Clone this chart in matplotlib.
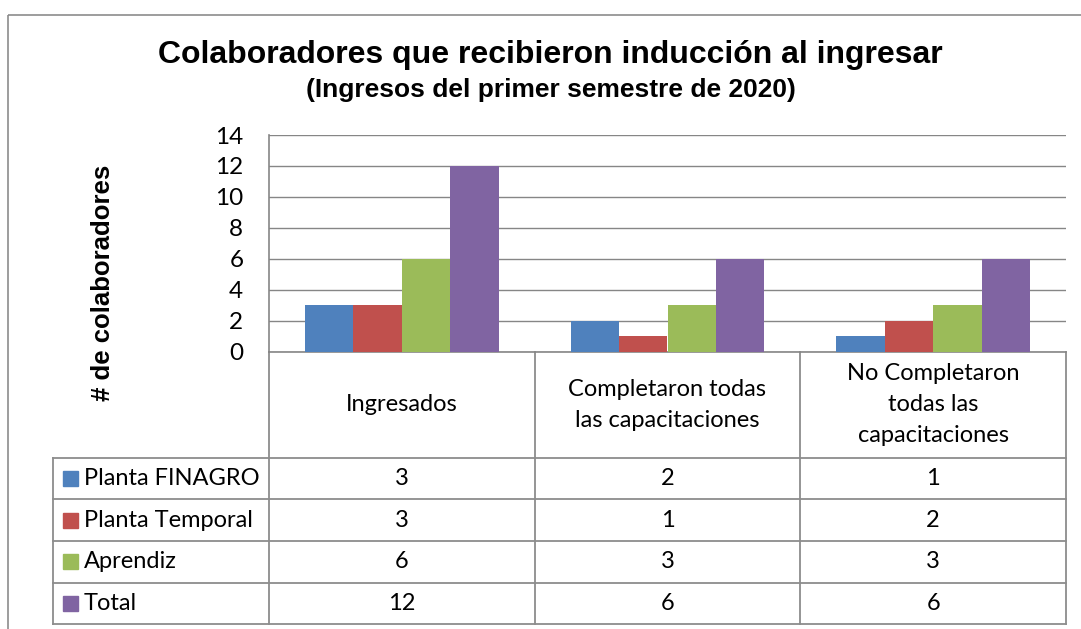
import numpy as np
import matplotlib
matplotlib.use("Agg")
import matplotlib.pyplot as plt
from matplotlib.patches import Rectangle

# data
categories = ["Ingresados",
              "Completaron todas\nlas capacitaciones",
              "No Completaron\ntodas las\ncapacitaciones"]
series_names = ["Planta FINAGRO", "Planta Temporal", "Aprendiz", "Total"]
planta_finagro = [3, 2, 1]
planta_temporal = [3, 1, 2]
aprendiz = [6, 3, 3]
total = [12, 6, 6]
series_values = [planta_finagro, planta_temporal, aprendiz, total]
colors = ["#4F81BD", "#C0504D", "#9BBB59", "#8064A2"]

W, H = 1081, 629
fig = plt.figure(figsize=(W / 100, H / 100), dpi=100)

# pixel layout
plot_left, plot_right = 269, 1066
plot_top, plot_bottom = 135, 351.7
head_bottom = 457.7
row_h = 41.6
legend_left = 53.3
grid_col = "#868686"
body_font = ["Lato", "DejaVu Sans"]
fs_body = 17

# overlay axes in pixel coordinates for border / table / titles
ov = fig.add_axes([0, 0, 1, 1])
ov.set_xlim(0, W)
ov.set_ylim(H, 0)
ov.axis("off")
ov.add_patch(Rectangle((7.7, 15), W + 20, H + 20, fill=False, ec="#8c8c8c", lw=1.2))

ov.text(550, 55, "Colaboradores que recibieron inducción al ingresar",
        ha="center", va="center", fontsize=23, fontweight="bold", family="Liberation Sans")
ov.text(551, 90, "(Ingresos del primer semestre de 2020)",
        ha="center", va="center", fontsize=19, fontweight="bold", family="Liberation Sans")
ov.text(103, 283, "# de colaboradores", rotation=90, ha="center", va="center",
        fontsize=18.5, fontweight="bold", family="Liberation Sans")

# bar chart
ax = fig.add_axes([plot_left / W, 1 - plot_bottom / H,
                   (plot_right - plot_left) / W, (plot_bottom - plot_top) / H])
ax.set_facecolor("none")
n_cat = len(categories)
x = np.arange(n_cat)
bw = 0.182
for i, (vals, c) in enumerate(zip(series_values, colors)):
    ax.bar(x + (i - 1.5) * bw, vals, bw, color=c, zorder=3)
ax.set_xlim(-0.5, n_cat - 0.5)
ax.set_ylim(0, 14)
ax.set_yticks(np.arange(0, 15, 2))
ax.set_xticks([])
ax.grid(axis="y", color=grid_col, lw=1.0, zorder=0)
for s in ["top", "right"]:
    ax.spines[s].set_visible(False)
for s in ["left", "bottom"]:
    ax.spines[s].set_color(grid_col)
    ax.spines[s].set_linewidth(1.2)
ax.tick_params(axis="y", length=0, pad=18.5, labelsize=fs_body + 0.5)
for lab in ax.get_yticklabels():
    lab.set_family(body_font)

# data table
col_edges = np.linspace(plot_left, plot_right, n_cat + 1)
col_centers = (col_edges[:-1] + col_edges[1:]) / 2
table_bottom = head_bottom + row_h * len(series_names)
lc = "#8c8c8c"
lw = 1.3
# vertical lines
for xe in col_edges:
    ov.plot([xe, xe], [plot_bottom, table_bottom], color=lc, lw=lw)
ov.plot([legend_left, legend_left], [head_bottom, table_bottom], color=lc, lw=lw)
# horizontal lines
for r in range(len(series_names) + 1):
    yy = head_bottom + r * row_h
    ov.plot([legend_left, plot_right], [yy, yy], color=lc, lw=lw)

# header labels
for cx, cat in zip(col_centers, categories):
    ov.text(cx, (plot_bottom + head_bottom) / 2, cat, ha="center", va="center",
            fontsize=fs_body, family=body_font, linespacing=1.6, multialignment="center")

# rows
for r, (name, vals, c) in enumerate(zip(series_names, series_values, colors)):
    yc = head_bottom + (r + 0.5) * row_h
    ov.add_patch(Rectangle((63, yc - 7.5), 15, 15, color=c))
    ov.text(84, yc, name, ha="left", va="center", fontsize=fs_body, family=body_font)
    for cx, v in zip(col_centers, vals):
        ov.text(cx, yc, str(v), ha="center", va="center", fontsize=fs_body, family=body_font)

fig.savefig("out.png", dpi=100)
